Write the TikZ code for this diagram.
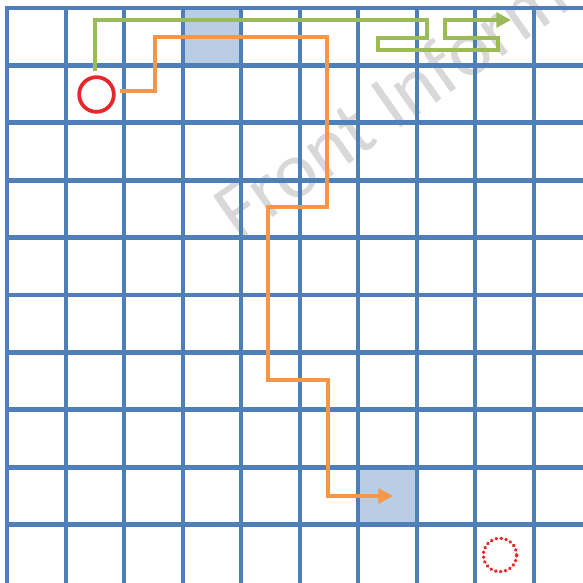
\documentclass[tikz,border=0pt]{standalone}
\usepackage{fontspec}
\newfontfamily\wmfont{Carlito}
\usetikzlibrary{arrows.meta}
\definecolor{gridblue}{HTML}{4F7FB8}
\definecolor{cellblue}{HTML}{B9CDE5}
\definecolor{pathgreen}{HTML}{9BBB59}
\definecolor{pathorange}{HTML}{F79646}
\definecolor{markred}{HTML}{E8262B}
\definecolor{wmgray}{HTML}{D8D8D8}
\tikzset{
  gridline/.style={draw=gridblue, line width=3.0pt},
  gridlineh/.style={draw=gridblue, line width=3.5pt},
  cellfill/.style={fill=cellblue, draw=none},
  greenroute/.style={draw=pathgreen, line width=3.6pt, line join=miter,
    -{Triangle[length=11pt,width=11pt]}},
  orangeroute/.style={draw=pathorange, line width=3.6pt, line join=miter,
    -{Triangle[length=11pt,width=11pt]}},
  startmark/.style={circle, draw=markred, line width=2.8pt, minimum size=26pt, inner sep=0pt},
  goalmark/.style={circle, draw=markred, line width=2.6pt, minimum size=25pt, inner sep=0pt,
    line cap=round, dash pattern=on 0.3pt off 3.4pt},
  watermark/.style={text=wmgray, font=\wmfont\fontsize{60}{60}\selectfont, rotate=35, anchor=base west, inner sep=0pt}
}
\begin{document}
\begin{tikzpicture}[x=0.75pt,y=-0.75pt]
\useasboundingbox (0,0) rectangle (583,583);
\clip (0,0) rectangle (583,583);
\fill[white] (0,0) rectangle (583,583);
% watermark
\node[watermark] (wm) at (238,242) {Front Inform};
% shaded cells
\path[cellfill] (183.5,8) rectangle (242,65.4);
\path[cellfill] (358.5,467.4) rectangle (417,524.8);
% grid
\foreach \i in {0,...,9} {
  \draw[gridline] ({7+58.5*\i},6) -- ({7+58.5*\i},600);
}
\foreach \j in {0,...,9} {
  \draw[gridlineh] (5,{8+57.4*\j}) -- (600,{8+57.4*\j});
}
% markers
\node[startmark] (start) at (96.5,94.5) {};
\node[goalmark] (goal) at (500,555) {};
% routes
\coordinate (g1) at (95,20);
\coordinate (g2) at (427,20);
\coordinate (g3) at (427,38);
\coordinate (g4) at (378,38);
\coordinate (g5) at (378,50);
\coordinate (g6) at (498,50);
\coordinate (g7) at (498,38);
\coordinate (g8) at (445,38);
\coordinate (g9) at (445,20);
\coordinate (gend) at (511,20);
\draw[greenroute] ([yshift=3pt]start.north -| g1) -- (g1) -- (g2) -- (g3) -- (g4) -- (g5) -- (g6) -- (g7) -- (g8) -- (g9) -- (gend);
\coordinate (o1) at (155,91);
\coordinate (o2) at (155,37);
\coordinate (o3) at (327,37);
\coordinate (o4) at (327,207);
\coordinate (o5) at (268,207);
\coordinate (o6) at (268,380);
\coordinate (o7) at (328,380);
\coordinate (o8) at (328,496);
\coordinate (oend) at (393,496);
\draw[orangeroute] ([xshift=3pt]start.east |- o1) -- (o1) -- (o2) -- (o3) -- (o4) -- (o5) -- (o6) -- (o7) -- (o8) -- (oend);
\end{tikzpicture}
\end{document}
